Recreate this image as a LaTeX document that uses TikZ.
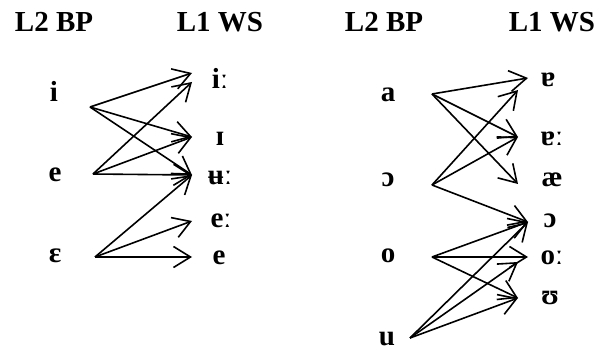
\documentclass[tikz,border=0pt]{standalone}
\usepackage{fontspec}
\setmainfont{Liberation Serif}[BoldFont={Liberation Serif Bold}]
\newfontfamily\vowelfont{Liberation Serif Bold}
\usetikzlibrary{arrows.meta}
\begin{document}
\begin{tikzpicture}[x=1pt,y=-1pt,
  lbl/.style={font=\vowelfont\fontsize{29}{34}\selectfont, inner sep=0pt, anchor=base},
  link/.style={line width=1.6pt, -{Straight Barb[length=17pt,width=21pt,line width=1.6pt]}}]
\useasboundingbox (0,0) rectangle (611,350);

% column headings
\node[lbl] (hL2a) at (54,32) {L2 BP};
\node[lbl] (hL1a) at (220,32) {L1 WS};
\node[lbl] (hL2b) at (384,32) {L2 BP};
\node[lbl] (hL1b) at (552,32) {L1 WS};

% front vowels: L2 sources
\node[lbl] (si) at (54,102) {i};
\node[lbl] (se) at (55,182) {e};
\node[lbl] (seps) at (55,262) {ɛ};
% front vowels: L1 targets
\node[lbl] (tii) at (220,89) {iː};
\node[lbl] (tI) at (220,146) {ɪ};
\node[lbl] (tuu) at (220,185) {ʉː};
\node[lbl] (tee) at (221,227) {eː};
\node[lbl] (te) at (219,265) {e};

% back/low vowels: L2 sources
\node[lbl] (sa) at (388,102) {a};
\node[lbl] (sopen) at (388,187) {ɔ};
\node[lbl] (so) at (388,262) {o};
\node[lbl] (su) at (387,345) {u};
% back/low vowels: L1 targets
\node[lbl] (tA) at (548,87) {ɐ};
\node[lbl] (tAA) at (552,146) {ɐː};
\node[lbl] (tae) at (552,186) {æ};
\node[lbl] (topen) at (550,227) {ɔ};
\node[lbl] (too) at (552,264) {oː};
\node[lbl] (tU) at (550,304) {ʊ};

% arrow ports
\coordinate (siP) at (90,107);
\coordinate (seP) at (93,174);
\coordinate (sepsP) at (95,257);
\coordinate (tiiA) at (192,73);
\coordinate (tiiB) at (192,82);
\coordinate (tIP) at (192,137);
\coordinate (tuuP) at (192,175);
\coordinate (teeP) at (192,221);
\coordinate (teP) at (192,257);

\coordinate (saP) at (432,94);
\coordinate (sopenP) at (432,185);
\coordinate (soP) at (432,257);
\coordinate (suP) at (410,338);
\coordinate (tAA1) at (528,78);
\coordinate (tAA2) at (518,90);
\coordinate (tAAP) at (518,137);
\coordinate (taeP) at (518,184);
\coordinate (topenP) at (528,222);
\coordinate (tooA) at (528,257);
\coordinate (tooB) at (518,262);
\coordinate (tUP) at (518,298);

% front vowel mappings
\draw[link] (siP) -- (tiiA);
\draw[link] (siP) -- (tIP);
\draw[link] (siP) -- (tuuP);
\draw[link] (seP) -- (tiiB);
\draw[link] (seP) -- (tIP);
\draw[link] (seP) -- (tuuP);
\draw[link] (sepsP) -- (tuuP);
\draw[link] (sepsP) -- (teeP);
\draw[link] (sepsP) -- (teP);

% back/low vowel mappings
\draw[link] (saP) -- (tAA1);
\draw[link] (saP) -- (tAAP);
\draw[link] (saP) -- (taeP);
\draw[link] (sopenP) -- (tAA2);
\draw[link] (sopenP) -- (tAAP);
\draw[link] (sopenP) -- (topenP);
\draw[link] (soP) -- (topenP);
\draw[link] (soP) -- (tooA);
\draw[link] (soP) -- (tUP);
\draw[link] (suP) -- (topenP);
\draw[link] (suP) -- (tooB);
\draw[link] (suP) -- (tUP);
\end{tikzpicture}
\end{document}
